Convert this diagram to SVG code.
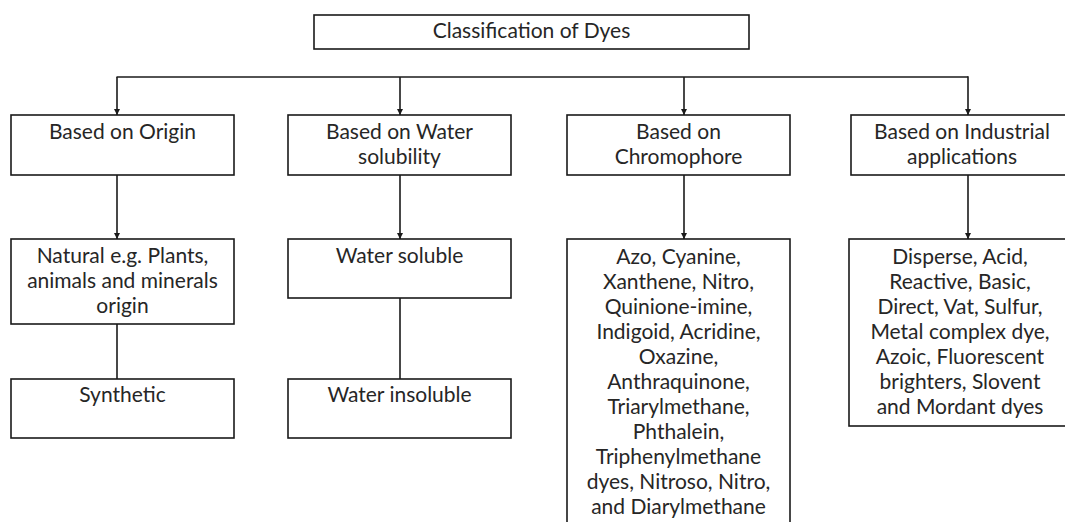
<svg xmlns="http://www.w3.org/2000/svg" width="1065" height="522" viewBox="0 0 1065 522">
<style>
.box{fill:#fff;stroke:#1a1a1a;stroke-width:1.6}
.t{font-family:Lato,"Open Sans","Liberation Sans",sans-serif;font-size:21px;fill:#262626;text-anchor:middle}
.c{fill:none;stroke:#1a1a1a;stroke-width:1.6}
</style>
<defs>
<marker id="ah" viewBox="0 0 10 10" refX="10" refY="5" markerWidth="6" markerHeight="6" markerUnits="userSpaceOnUse" orient="auto">
<path d="M0,0 L10,5 L0,10 z" fill="#1a1a1a"/>
</marker>
</defs>
<rect width="1065" height="522" fill="#fff"/>
<g id="connectors">
<path class="c" d="M116.5,77 H968"/>
<path class="c" d="M117,77 V115" marker-end="url(#ah)"/>
<path class="c" d="M400,77 V115" marker-end="url(#ah)"/>
<path class="c" d="M684,77 V115" marker-end="url(#ah)"/>
<path class="c" d="M968,76.2 V115" marker-end="url(#ah)"/>
<path class="c" d="M117,175 V239" marker-end="url(#ah)"/>
<path class="c" d="M400,175 V239" marker-end="url(#ah)"/>
<path class="c" d="M684,175 V239" marker-end="url(#ah)"/>
<path class="c" d="M968,175 V239" marker-end="url(#ah)"/>
<path class="c" d="M117,324 V379"/>
<path class="c" d="M400,298 V379"/>
</g>
<g id="root">
<rect class="box" x="314" y="15" width="435" height="34"/>
<text class="t" x="531.5" y="38">Classification of Dyes</text>
</g>
<g id="origin">
<rect class="box" x="11" y="115" width="223" height="60"/>
<text class="t" x="122.5" y="139">Based on Origin</text>
</g>
<g id="water">
<rect class="box" x="288" y="115" width="223" height="60"/>
<text class="t" x="399.5" y="139">Based on Water</text>
<text class="t" x="399.5" y="164">solubility</text>
</g>
<g id="chromophore">
<rect class="box" x="567" y="115" width="223" height="60"/>
<text class="t" x="678.5" y="139">Based on</text>
<text class="t" x="678.5" y="164">Chromophore</text>
</g>
<g id="industrial">
<rect class="box" x="851" y="115" width="222" height="60"/>
<text class="t" x="962" y="139">Based on Industrial</text>
<text class="t" x="962" y="164">applications</text>
</g>
<g id="natural">
<rect class="box" x="11" y="239" width="223" height="85"/>
<text class="t" x="122.5" y="263">Natural e.g. Plants,</text>
<text class="t" x="122.5" y="288">animals and minerals</text>
<text class="t" x="122.5" y="313">origin</text>
</g>
<g id="synthetic">
<rect class="box" x="11" y="379" width="223" height="59"/>
<text class="t" x="122.5" y="402">Synthetic</text>
</g>
<g id="soluble">
<rect class="box" x="288" y="239" width="223" height="59"/>
<text class="t" x="399.5" y="263">Water soluble</text>
</g>
<g id="insoluble">
<rect class="box" x="288" y="379" width="223" height="59"/>
<text class="t" x="399.5" y="402">Water insoluble</text>
</g>
<g id="chromophore-list">
<rect class="box" x="567" y="239" width="223" height="300"/>
<text class="t" x="678.5" y="264">Azo, Cyanine,</text>
<text class="t" x="678.5" y="289">Xanthene, Nitro,</text>
<text class="t" x="678.5" y="314">Quinione-imine,</text>
<text class="t" x="678.5" y="339">Indigoid, Acridine,</text>
<text class="t" x="678.5" y="364">Oxazine,</text>
<text class="t" x="678.5" y="389">Anthraquinone,</text>
<text class="t" x="678.5" y="414">Triarylmethane,</text>
<text class="t" x="678.5" y="439">Phthalein,</text>
<text class="t" x="678.5" y="464">Triphenylmethane</text>
<text class="t" x="678.5" y="489">dyes, Nitroso, Nitro,</text>
<text class="t" x="678.5" y="514">and Diarylmethane</text>
</g>
<g id="industrial-list">
<rect class="box" x="849" y="239" width="224" height="187"/>
<text class="t" x="960" y="264">Disperse, Acid,</text>
<text class="t" x="960" y="289">Reactive, Basic,</text>
<text class="t" x="960" y="314">Direct, Vat, Sulfur,</text>
<text class="t" x="960" y="339">Metal complex dye,</text>
<text class="t" x="960" y="364">Azoic, Fluorescent</text>
<text class="t" x="960" y="389">brighters, Slovent</text>
<text class="t" x="960" y="414">and Mordant dyes</text>
</g>
</svg>
